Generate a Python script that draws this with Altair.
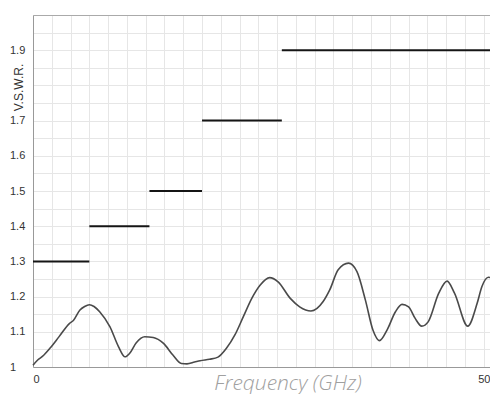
import altair as alt
import pandas as pd

# VSWR curve
freq = [0, 0.5, 1.0, 1.8, 2.8, 3.9, 4.3, 5.0, 5.5, 6.0, 6.5, 7.1, 8.2, 9.1, 9.8, 10.3,
        11.0, 11.9, 12.8, 13.9, 14.9, 15.8, 16.4, 17.2, 17.8, 18.8, 19.7, 20.6, 21.5,
        22.4, 23.3, 24.2, 25.2, 26.1, 27.4, 28.4, 29.6, 30.9, 31.6, 32.5, 33.6, 34.5,
        35.4, 36.2, 36.9, 37.7, 38.6, 39.3, 40.0, 40.7, 41.4, 42.1, 43.2, 44.1, 44.9,
        46.3, 47.3, 47.8, 48.5, 49.4, 50]
vswr = [1.005, 1.02, 1.03, 1.053, 1.087, 1.124, 1.132, 1.162, 1.172, 1.177, 1.172, 1.157,
        1.114, 1.058, 1.029, 1.039, 1.069, 1.086, 1.084, 1.067, 1.034, 1.010, 1.009, 1.014,
        1.018, 1.022, 1.028, 1.053, 1.091, 1.143, 1.195, 1.233, 1.254, 1.242, 1.195, 1.171,
        1.159, 1.186, 1.219, 1.276, 1.295, 1.271, 1.190, 1.105, 1.075, 1.105, 1.157, 1.178,
        1.171, 1.138, 1.116, 1.129, 1.209, 1.244, 1.209, 1.116, 1.181, 1.228, 1.255, 1.240,
        1.22]

# Specification limit steps
lim_start = [0, 6, 12.4, 18, 26.5]
lim_end = [6, 12.4, 18, 26.5, 50]
lim_value = [1.3, 1.4, 1.5, 1.7, 1.9]

x_grid = [2 * i for i in range(26)]
y_grid = [round(1 + 0.05 * i, 2) for i in range(21)]

curve_df = pd.DataFrame({"freq": freq, "vswr": vswr})
lim_df = pd.DataFrame({"start": lim_start, "end": lim_end, "value": lim_value})

x_scale = alt.Scale(domain=[0, 50], nice=False, zero=False, range=[0, 469.5])
y_scale = alt.Scale(domain=[1, 2], nice=False, zero=False)

x_axis = alt.Axis(
    orient="bottom",
    values=x_grid,
    labelExpr="(datum.value == 0 || datum.value == 50) ? datum.label : ''",
    labelFlush=True,
    labelOffset={"condition": {"test": "datum.value == 50", "value": -12.5}, "value": 0},
    ticks=False,
    labelPadding=6,
    labelFont="Liberation Sans",
    labelFontSize=11,
    labelColor="#333333",
    title="Frequency (GHz)",
    titleFont="Open Sans",
    titleFontStyle="italic",
    titleFontWeight=300,
    titleFontSize=21,
    titleColor="#a0a0a0",
    titleX=254.5,
    titleY=22,
    titleBaseline="alphabetic",
    titleAlign="center",
    grid=True,
    gridColor="#e6e6e6",
    domainColor="#999999",
)

x_top_axis = alt.Axis(
    orient="top",
    labels=False,
    ticks=False,
    grid=False,
    title=None,
    domainColor="#aaaaaa",
)

y_axis = alt.Axis(
    values=y_grid,
    labelExpr="(round(datum.value * 100) % 10 == 0 && datum.value < 1.75) || (round(datum.value * 100) == 190) ? format(datum.value, '.2~f') : ''",
    ticks=False,
    labelAlign="left",
    labelPadding=23.5,
    labelFont="Liberation Sans",
    labelFontSize=11,
    labelColor="#333333",
    title="V.S.W.R.",
    titleFont="Liberation Sans",
    titleFontWeight="normal",
    titleFontSize=12,
    titleColor="#333333",
    titleAngle=270,
    titleX=-10.3,
    titleY=72,
    titleBaseline="alphabetic",
    titleAlign="center",
    grid=True,
    gridColor="#e6e6e6",
    domainColor="#999999",
)

curve = alt.Chart(curve_df).mark_line(
    color="#4a4a4a", strokeWidth=1.6, interpolate="monotone"
).encode(
    x=alt.X("freq:Q", scale=x_scale, axis=x_axis),
    y=alt.Y("vswr:Q", scale=y_scale, axis=y_axis),
)

limits = alt.Chart(lim_df).mark_rule(color="#151515", strokeWidth=2).encode(
    x=alt.X("start:Q", scale=x_scale, axis=x_top_axis),
    x2="end:Q",
    y=alt.Y("value:Q", scale=y_scale, axis=y_axis),
)

chart = alt.layer(curve, limits).resolve_axis(x="independent").properties(
    width=457,
    height=352,
    autosize=alt.AutoSizeParams(type="none"),
    padding={"left": 25, "top": 7, "right": 0, "bottom": 27},
).configure_view(stroke=None)

chart.save("out.html", embed_options={"renderer": "svg", "actions": False})
